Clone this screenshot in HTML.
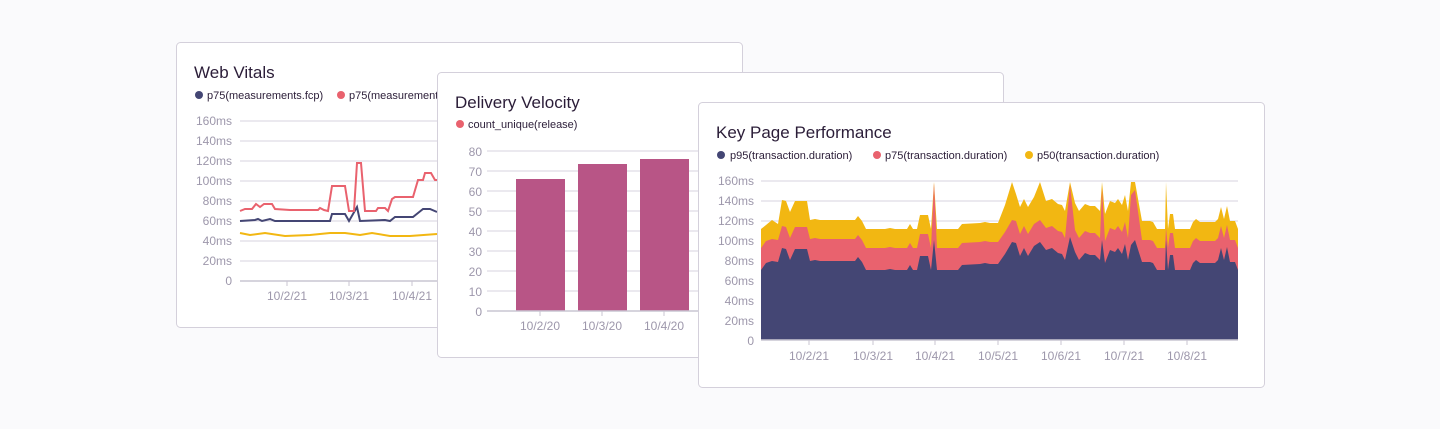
<!DOCTYPE html>
<html><head><meta charset="utf-8"><style>
html,body{margin:0;padding:0;background:#fafafc;}
svg{display:block;font-family:"Liberation Sans",sans-serif;}
.t{font-size:17px;fill:#2b1d38;}
.l{font-size:11px;fill:#2b1d38;}
.a{font-size:12px;fill:#9d97ab;}
.g{stroke:#ebe9ef;stroke-width:2;}
</style></head><body>
<svg id="s" width="1440" height="429" viewBox="0 0 1440 429" xmlns="http://www.w3.org/2000/svg">
<rect width="1440" height="429" fill="#fafafc"/>
<rect x="176.5" y="42.5" width="566" height="285" rx="4" fill="#fff" stroke="#d4d0db"/>
<text class="t" x="194" y="78">Web Vitals</text>
<circle cx="199" cy="95" r="4" fill="#444674"/><text class="l" x="207" y="99">p75(measurements.fcp)</text>
<circle cx="341" cy="95" r="4" fill="#e9626e"/><text class="l" x="349" y="99">p75(measurements.lcp)</text>
<g id="wvgrid"></g>
<g class="a" text-anchor="end">
<text x="232" y="125">160ms</text><text x="232" y="145">140ms</text><text x="232" y="165">120ms</text><text x="232" y="185">100ms</text><text x="232" y="205">80ms</text><text x="232" y="225">60ms</text><text x="232" y="245">40ms</text><text x="232" y="265">20ms</text><text x="232" y="285">0</text>
</g>
<polyline fill="none" stroke="#f2b712" stroke-width="2" points="240,233 250,235 265,233 285,236 310,235 330,233 345,233 360,235 372,233 390,236 410,236 437,234"/>
<polyline fill="none" stroke="#444674" stroke-width="2" points="240,221 255,220 258,219 262,221 270,219 275,221 330,221 332,214 345,214 349,221 357,207 360,221 385,220 390,221 395,217 413,217 418,213 423,209 430,209 437,212"/>
<polyline fill="none" stroke="#e9626e" stroke-width="2" points="240,211 245,209 252,209 256,204 260,207 264,204 272,204 275,209 290,210 318,210 320,208 324,210 328,211 332,186 345,186 349,211 354,211 357,163 361,163 365,211 370,211 376,211 378,208 385,208 388,211 392,199 395,197 413,197 418,180 423,180 425,173 431,173 435,180 437,180"/>
<line x1="240" y1="281" x2="440" y2="281" stroke="#c9c5d2" stroke-width="1.5"/>
<g stroke="#c9c5d2"><line x1="287" y1="281" x2="287" y2="286"/><line x1="349" y1="281" x2="349" y2="286"/><line x1="412" y1="281" x2="412" y2="286"/></g>
<g class="a" text-anchor="middle"><text x="287" y="300">10/2/21</text><text x="349" y="300">10/3/21</text><text x="412" y="300">10/4/21</text></g>

<rect x="437.5" y="72.5" width="566" height="285" rx="4" fill="#fff" stroke="#d4d0db"/>
<text class="t" x="455" y="108">Delivery Velocity</text>
<circle cx="460" cy="124" r="4" fill="#e9626e"/><text class="l" x="468" y="128">count_unique(release)</text>
<g id="dvgrid"></g>
<g class="a" text-anchor="end">
<text x="482" y="156">80</text><text x="482" y="176">70</text><text x="482" y="196">60</text><text x="482" y="216">50</text><text x="482" y="236">40</text><text x="482" y="256">30</text><text x="482" y="276">20</text><text x="482" y="296">10</text><text x="482" y="316">0</text>
</g>
<g fill="#b85586"><rect x="516" y="179" width="49" height="132"/><rect x="578" y="164" width="49" height="147"/><rect x="640" y="159" width="49" height="152"/></g>
<line x1="487" y1="311" x2="700" y2="311" stroke="#c9c5d2" stroke-width="1.5"/>
<g stroke="#c9c5d2"><line x1="540" y1="311" x2="540" y2="316"/><line x1="602" y1="311" x2="602" y2="316"/><line x1="664" y1="311" x2="664" y2="316"/></g>
<g class="a" text-anchor="middle"><text x="540" y="330">10/2/20</text><text x="602" y="330">10/3/20</text><text x="664" y="330">10/4/20</text></g>

<rect x="698.5" y="102.5" width="566" height="285" rx="4" fill="#fff" stroke="#d4d0db"/>
<text class="t" x="716" y="138">Key Page Performance</text>
<circle cx="721" cy="155" r="4" fill="#444674"/><text class="l" x="730" y="159">p95(transaction.duration)</text>
<circle cx="877" cy="155" r="4" fill="#e9626e"/><text class="l" x="885" y="159">p75(transaction.duration)</text>
<circle cx="1029" cy="155" r="4" fill="#f2b712"/><text class="l" x="1037" y="159">p50(transaction.duration)</text>
<g id="kpgrid"></g>
<g class="a" text-anchor="end">
<text x="754" y="185">160ms</text><text x="754" y="205">140ms</text><text x="754" y="225">120ms</text><text x="754" y="245">100ms</text><text x="754" y="265">80ms</text><text x="754" y="285">60ms</text><text x="754" y="305">40ms</text><text x="754" y="325">20ms</text><text x="754" y="345">0</text>
</g>
<g id="kp"></g>
<line x1="761" y1="340" x2="1238" y2="340" stroke="#c9c5d2" stroke-width="1.5"/>
<g stroke="#c9c5d2"><line x1="809" y1="340" x2="809" y2="345"/><line x1="873" y1="340" x2="873" y2="345"/><line x1="935" y1="340" x2="935" y2="345"/><line x1="998" y1="340" x2="998" y2="345"/><line x1="1061" y1="340" x2="1061" y2="345"/><line x1="1124" y1="340" x2="1124" y2="345"/><line x1="1187" y1="340" x2="1187" y2="345"/></g>
<g class="a" text-anchor="middle"><text x="809" y="360">10/2/21</text><text x="873" y="360">10/3/21</text><text x="935" y="360">10/4/21</text><text x="998" y="360">10/5/21</text><text x="1061" y="360">10/6/21</text><text x="1124" y="360">10/7/21</text><text x="1187" y="360">10/8/21</text></g>
</svg>
<script>
var NS="http://www.w3.org/2000/svg";
function grid(id,x1,x2,y0,n){var g=document.getElementById(id);for(var i=0;i<n;i++){var l=document.createElementNS(NS,"line");l.setAttribute("x1",x1);l.setAttribute("x2",x2);l.setAttribute("y1",y0+i*20);l.setAttribute("y2",y0+i*20);l.setAttribute("class","g");g.appendChild(l);}}
grid("wvgrid",240,437,121,8);grid("dvgrid",487,1003,151,8);grid("kpgrid",761,1238,181,8);
var p95=[[761,70],[766,77],[772,79],[778,78],[782,92],[786,91],[790,80],[795,91],[807,91],[810,79],[815,80],[820,79],[855,79],[858,83],[862,78],[866,70],[885,70],[890,71],[895,70],[907,70],[910,75],[913,70],[917,70],[920,84],[928,84],[931,70],[934,100],[937,70],[958,70],[962,75],[980,76],[985,77],[990,76],[998,76],[1005,86],[1012,98],[1016,97],[1020,84],[1024,92],[1028,84],[1034,94],[1040,98],[1046,90],[1052,92],[1058,87],[1062,86],[1065,80],[1070,103],[1075,88],[1079,80],[1085,87],[1090,85],[1095,85],[1100,80],[1102,100],[1105,77],[1110,90],[1115,88],[1118,92],[1122,86],[1125,96],[1128,80],[1131,95],[1135,100],[1142,78],[1150,78],[1153,77],[1157,70],[1165,70],[1166,100],[1168,70],[1170,85],[1173,85],[1175,70],[1185,70],[1190,70],[1193,77],[1196,80],[1200,77],[1215,77],[1218,80],[1221,92],[1224,80],[1227,93],[1230,78],[1235,78],[1238,70]];
var s75={934:35,1070:30,1102:30,1166:-10,1131:28,1135:28};
var s50={934:25,1070:25,1102:28,1166:50,1131:12,1135:12,1012:22,1040:22};
function d75(x,v){return v+22+(s75[x]||0);}
function path(pts,col){var d="M761,340";pts.forEach(function(p){d+=" L"+p[0]+","+(340-p[1]);});d+=" L1238,340 Z";var e=document.createElementNS(NS,"path");e.setAttribute("d",d);e.setAttribute("fill",col);document.getElementById("kp").appendChild(e);}
var a75=p95.map(function(p){return [p[0],d75(p[0],p[1])];});
var a50=a75.map(function(p){var x=p[0];var v=p[1]+19+(s50[x]||0);if(x>=1005&&x<=1140)v+=8;if(x>=782&&x<=807)v+=7;if(x==766||x==778)v-=3;return [x,Math.min(v,158)];});
path(a50,"#f2b712");path(a75,"#e9626e");path(p95,"#444674");
</script>
</body></html>
